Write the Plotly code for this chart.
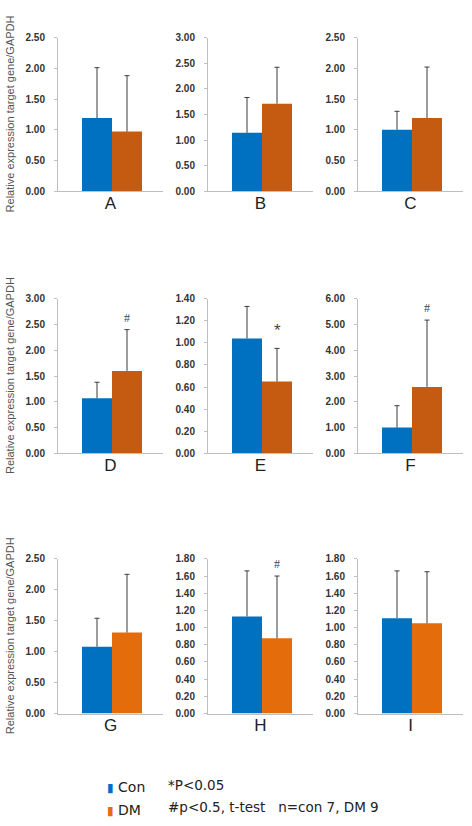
import plotly.graph_objects as go

panels = ["A", "B", "C", "D", "E", "F", "G", "H", "I"]
con_mean = [1.19, 1.14, 1.00, 1.07, 1.04, 1.00, 1.08, 1.13, 1.11]
con_err = [0.82, 0.69, 0.30, 0.31, 0.29, 0.85, 0.46, 0.53, 0.55]
dm_mean = [0.97, 1.71, 1.19, 1.60, 0.65, 2.58, 1.31, 0.875, 1.05]
dm_err = [0.91, 0.71, 0.83, 0.80, 0.30, 2.59, 0.94, 0.725, 0.60]
y_max = [2.5, 3.0, 2.5, 3.0, 1.4, 6.0, 2.5, 1.8, 1.8]
y_step = [0.5, 0.5, 0.5, 0.5, 0.2, 1.0, 0.5, 0.2, 0.2]
marks = ["", "", "", "#", "*", "#", "", "#", ""]
series_names = ["Con", "DM"]
note_lines = ["*P<0.05", "#p<0.5, t-test   n=con 7, DM 9"]
y_title = "Relative expression target gene/GAPDH"

con_color = "#0070C0"
dm_colors_by_row = ["#C55A11", "#C55A11", "#E46C0A"]
err_color = "#3a3a3a"

W, H = 472, 826
col_x0 = [58, 208, 358]
axis_w = 105
row_top = [32, 297, 561]
row_bot = [188, 454, 718]

# numeric x-axis of each panel spans [-0.5, 0.5]
bar_w = 30 / axis_w
cap_half = 2.5 / axis_w
x_pos = [-bar_w / 2 + 1.5 / axis_w, bar_w / 2 + 1.5 / axis_w]

fig = go.Figure()
layout = dict(
    width=W, height=H, margin=dict(l=0, r=0, t=0, b=0),
    paper_bgcolor="white", plot_bgcolor="white",
    barmode="overlay",
    showlegend=False,
    font=dict(family="Liberation Sans, Arial", color="#333"),
)
annotations = []

for i, p in enumerate(panels):
    r, c = divmod(i, 3)
    sfx = "" if i == 0 else str(i + 1)
    xa, ya = "x" + sfx, "y" + sfx
    dmc = dm_colors_by_row[r]
    series = [(series_names[0], con_mean[i], con_err[i], con_color, x_pos[0]),
              (series_names[1], dm_mean[i], dm_err[i], dmc, x_pos[1])]
    for name, m, e, col, xc in series:
        fig.add_trace(go.Bar(
            x=[xc], y=[m], width=[bar_w], name=name,
            marker=dict(color=col, line=dict(width=0)),
            xaxis=xa, yaxis=ya, showlegend=False, hoverinfo="skip",
        ))
        fig.add_trace(go.Scatter(
            x=[xc, xc, None, xc - cap_half, xc + cap_half],
            y=[m, m + e, None, m + e, m + e],
            mode="lines", line=dict(color=err_color, width=1),
            xaxis=xa, yaxis=ya, showlegend=False, hoverinfo="skip",
        ))
    x0 = col_x0[c]
    layout["xaxis" + sfx] = dict(
        domain=[x0 / W, (x0 + axis_w) / W], anchor=ya, range=[-0.5, 0.5],
        tickvals=[0], ticktext=[p],
        showline=True, linecolor="#BFBFBF", linewidth=1,
        ticks="", showgrid=False, zeroline=False, fixedrange=True,
        tickfont=dict(size=17, color="#222", family="Liberation Sans, Arial"),
        ticklabelstandoff=-4,
    )
    n = int(round(y_max[i] / y_step[i]))
    tv = [round(k * y_step[i], 2) for k in range(n + 1)]
    layout["yaxis" + sfx] = dict(
        domain=[1 - row_bot[r] / H, 1 - row_top[r] / H], anchor=xa,
        range=[0, y_max[i]], tickvals=tv, ticktext=[f"{v:.2f}" for v in tv],
        showline=True, linecolor="#BFBFBF", linewidth=1,
        ticks="outside", ticklen=3, tickcolor="#BFBFBF",
        showgrid=False, zeroline=False, fixedrange=True,
        tickfont=dict(size=10, color="#333", family="Liberation Sans, Arial", weight="bold"),
        ticklabelstandoff=7,
    )
    if marks[i]:
        big = marks[i] == "*"
        annotations.append(dict(
            x=x_pos[1], y=dm_mean[i] + dm_err[i], xref=xa, yref=ya,
            yshift=3 if not big else 6,
            text=marks[i], showarrow=False, yanchor="bottom",
            font=dict(size=12 if not big else 17, color="#444",
                      family="Liberation Serif" if not big else "Liberation Sans"),
        ))

for r in range(3):
    annotations.append(dict(
        x=10 / W, y=1 - (row_top[r] + row_bot[r]) / 2 / H, xref="paper", yref="paper",
        xanchor="center", yanchor="middle",
        text=y_title, textangle=-90, showarrow=False,
        font=dict(size=11, color="#555", family="Liberation Sans, Arial"),
    ))

# legend block
leg_colors = [con_color, dm_colors_by_row[2]]
for k in range(2):
    annotations.append(dict(
        x=105 / W, y=1 - (793 + 23 * k) / H, xref="paper", yref="paper",
        xanchor="left", yanchor="middle", showarrow=False,
        text=f"<span style='color:{leg_colors[k]};font-size:12px'>▮</span> {series_names[k]}",
        font=dict(size=14, color="#222", family="DejaVu Sans"),
    ))
    annotations.append(dict(
        x=166 / W, y=1 - (790 + 23 * k) / H, xref="paper", yref="paper",
        xanchor="left", yanchor="middle", showarrow=False,
        text=note_lines[k],
        font=dict(size=13.5, color="#222", family="DejaVu Sans"),
    ))

layout["annotations"] = annotations
fig.update_layout(**layout)
fig.write_html("out.html", config={"displayModeBar": False},
               post_script="document.body.style.margin='0';")
